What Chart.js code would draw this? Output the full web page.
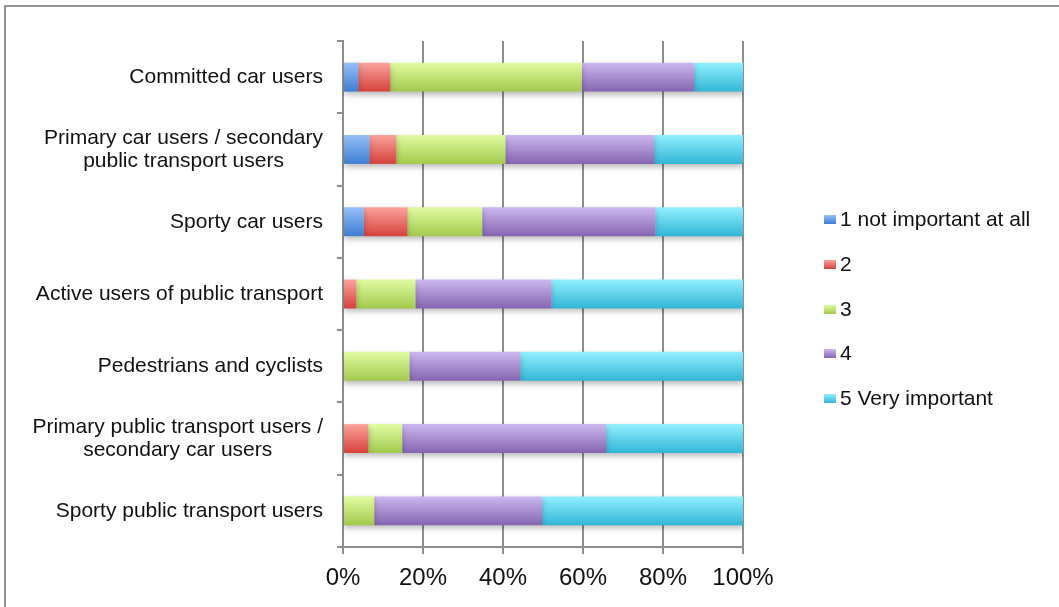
<!DOCTYPE html>
<html>
<head>
<meta charset="utf-8">
<script src="https://cdn.jsdelivr.net/npm/chart.js@4/dist/chart.umd.min.js"></script>
<style>
  html, body { margin: 0; padding: 0; background: #fff; overflow: hidden; }
  #wrap { position: relative; width: 1059px; height: 607px; }
  #frame { position: absolute; left: 4px; top: 5px; width: 1100px; height: 700px;
           border: 2px solid #949494; box-sizing: border-box; }
  #chart { position: absolute; left: 0; top: 0; }
  #legend { position: absolute; left: 824px; top: 0; font-family: "Liberation Sans", Arial, sans-serif;
            font-size: 21px; color: #111; }
  .item { position: absolute; left: 0; white-space: nowrap; height: 24px; line-height: 24px; }
  .box { position: absolute; left: 0; top: 8px; width: 12px; height: 9px; }
  .lbl { position: absolute; left: 16px; top: 0; }
</style>
</head>
<body>
<div id="wrap">
  <div id="frame"></div>
  <canvas id="chart" width="1059" height="607"></canvas>
  <div id="legend"></div>
</div>
<script>
// categories (top to bottom)
const categories = [
  'Committed car users',
  ['Primary car users / secondary', 'public transport users'],
  'Sporty car users',
  'Active users of public transport',
  'Pedestrians and cyclists',
  ['Primary public transport users /', 'secondary car users'],
  'Sporty public transport users'
];

// percentage shares per rating
const notImportant = [3.8, 6.6, 5.2, 0, 0, 0, 0];
const rating2 = [8.0, 6.7, 10.9, 3.3, 0, 6.3, 0];
const rating3 = [47.9, 27.3, 18.7, 14.8, 16.6, 8.5, 7.8];
const rating4 = [28.1, 37.2, 43.3, 34.0, 27.7, 51.0, 42.0];
const veryImportant = [12.2, 22.2, 21.9, 47.9, 55.7, 34.2, 50.2];

const seriesNames = ['1 not important at all', '2', '3', '4', '5 Very important'];
const xTicks = ['0%', '20%', '40%', '60%', '80%', '100%'];

// gradient colours: [top, bottom]
const shades = [
  ['#98c0f8', '#3d7dd2'],
  ['#fca39d', '#d6413b'],
  ['#e1fca2', '#a2c94d'],
  ['#cdb8ef', '#8564b1'],
  ['#93f0ff', '#31b6d6']
];

const BAR_H = 29;

function barFill(i) {
  return function (ctx) {
    const chart = ctx.chart;
    const y = chart.scales.y;
    if (!chart.chartArea || !y || ctx.dataIndex === undefined) return shades[i][0];
    const cy = y.getPixelForValue(ctx.dataIndex);
    const g = chart.ctx.createLinearGradient(0, cy - BAR_H / 2, 0, cy + BAR_H / 2);
    g.addColorStop(0, shades[i][0]);
    g.addColorStop(1, shades[i][1]);
    return g;
  };
}

const values = [notImportant, rating2, rating3, rating4, veryImportant];

const data = {
  labels: categories,
  datasets: values.map((v, i) => ({
    label: seriesNames[i],
    data: v,
    backgroundColor: barFill(i),
    borderWidth: 0,
    barPercentage: 0.8,
    categoryPercentage: 0.5
  }))
};

const font = "'Liberation Sans', Arial, sans-serif";

// soft shadow under the bars
const shadowPlugin = {
  id: 'barShadow',
  beforeDatasetsDraw(chart) {
    const c = chart.ctx;
    c.save();
    c.shadowColor = 'rgba(0,0,0,0.28)';
    c.shadowBlur = 6;
    c.shadowOffsetY = 3;
  },
  afterDatasetsDraw(chart) {
    chart.ctx.restore();
  }
};

// category labels: block right-aligned, lines centred on each other
const catLabels = {
  id: 'catLabels',
  afterDraw(chart) {
    const c = chart.ctx;
    const y = chart.scales.y;
    const right = y.right - 20;
    const lineH = 23;
    c.save();
    c.font = '21px ' + font;
    c.fillStyle = '#111';
    c.textAlign = 'center';
    c.textBaseline = 'middle';
    chart.data.labels.forEach((lab, i) => {
      const lines = Array.isArray(lab) ? lab : [lab];
      const w = Math.max(...lines.map((l) => c.measureText(l).width));
      const cx = right - w / 2;
      const cy = y.getPixelForValue(i);
      lines.forEach((l, k) => {
        c.fillText(l, cx, cy + (k - (lines.length - 1) / 2) * lineH);
      });
    });
    c.restore();
  }
};

new Chart(document.getElementById('chart'), {
  type: 'bar',
  data: data,
  options: {
    indexAxis: 'y',
    responsive: false,
    animation: false,
    devicePixelRatio: 1,
    layout: { padding: { left: 0, top: 41, right: 316, bottom: 0 } },
    plugins: {
      legend: { display: false },
      tooltip: { enabled: false }
    },
    scales: {
      x: {
        stacked: true,
        min: 0,
        max: 100,
        afterFit(scale) { scale.height = 60; },
        ticks: {
          stepSize: 20,
          color: '#111',
          font: { family: font, size: 24 },
          padding: 10,
          callback: (v) => xTicks[v / 20]
        },
        grid: { color: '#8e8e8e', lineWidth: 2, tickLength: 7 },
        border: { color: '#8e8e8e', width: 2 }
      },
      y: {
        stacked: true,
        afterFit(scale) { scale.width = 343; },
        ticks: { display: false },
        grid: { drawOnChartArea: false, color: '#8e8e8e', lineWidth: 2, tickLength: 6 },
        border: { color: '#8e8e8e', width: 2 }
      }
    }
  },
  plugins: [shadowPlugin, catLabels]
});

// legend
const legend = document.getElementById('legend');
const legendY = [207, 252, 297, 341, 386];
seriesNames.forEach((name, i) => {
  const item = document.createElement('div');
  item.className = 'item';
  item.style.top = legendY[i] + 'px';
  item.innerHTML = '<span class="box" style="background:linear-gradient(' + shades[i][0] + ',' + shades[i][1] + ')"></span><span class="lbl"></span>';
  item.querySelector('.lbl').textContent = name;
  legend.appendChild(item);
});
</script>
</body>
</html>
